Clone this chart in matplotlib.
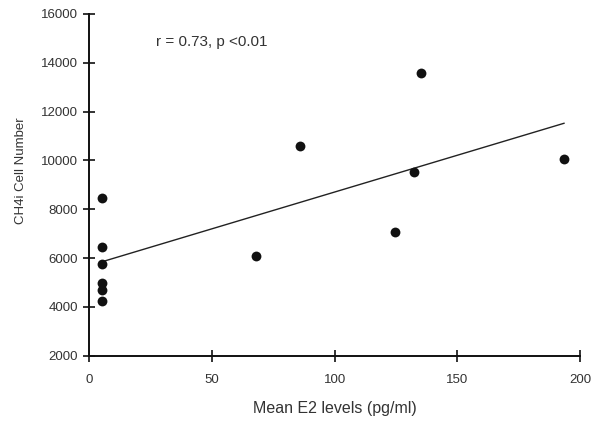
import numpy as np
import matplotlib
matplotlib.use("Agg")
import matplotlib.pyplot as plt

plt.rcParams['font.family'] = ['Liberation Sans', 'DejaVu Sans']

e2_levels = [5, 5, 5, 5, 5, 5, 68, 86, 124.7, 132.2, 135.2, 193.4]
cell_number = [8450, 6460, 5760, 4990, 4690, 4250, 6100, 10570, 7060, 9540, 13570, 10070]
x_ticks = [0, 50, 100, 150, 200]
y_ticks = [2000, 4000, 6000, 8000, 10000, 12000, 14000, 16000]
annotation = "r = 0.73, p <0.01"
xlabel = "Mean E2 levels (pg/ml)"
ylabel = "CH4i Cell Number"

fig = plt.figure(figsize=(6, 4.21), dpi=100)
ax = fig.add_axes([0.149, 0.155, 0.818, 0.812])

x = np.array(e2_levels)
y = np.array(cell_number)
slope, intercept = np.polyfit(x, y, 1)
xl = np.array([x.min(), x.max()])
ax.plot(xl, slope * xl + intercept, color='#222222', lw=1.0, zorder=2)
ax.scatter(x, y, s=50, color='#111111', zorder=3, linewidths=0)

ax.set_xlim(0, 200)
ax.set_ylim(2000, 16000)
ax.set_xticks(x_ticks)
ax.set_yticks(y_ticks)
for s in ['top', 'right']:
    ax.spines[s].set_visible(False)
for s in ['left', 'bottom']:
    ax.spines[s].set_linewidth(1.4)
    ax.spines[s].set_color('#111111')
ax.tick_params(direction='inout', length=8, width=1.2, colors='#111111',
               labelsize=9.5, labelcolor='#333333', pad=4)
ax.tick_params(axis='x', pad=9)
ax.set_xlabel(xlabel, fontsize=11.5, color='#333333', labelpad=11)
ax.set_ylabel(ylabel, fontsize=9.5, color='#333333')
ax.yaxis.set_label_coords(-0.128, 0.54)
ax.text(0.135, 0.905, annotation, transform=ax.transAxes, fontsize=11,
        color='#333333')

fig.savefig("out.png", dpi=100, facecolor='white')
